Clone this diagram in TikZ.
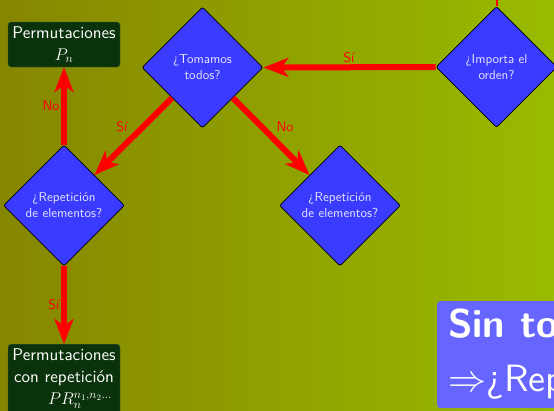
\documentclass[tikz,border=0pt]{standalone}
\usepackage{fix-cm}
\usepackage{fontspec}
\setsansfont{lmsans10-regular.otf}[BoldFont=lmsans10-bold.otf]
\usetikzlibrary{shapes.geometric,arrows.meta}
\definecolor{bgL}{HTML}{868600}
\definecolor{bgR}{HTML}{99BB00}
\definecolor{diaBlue}{HTML}{3B3BFF}
\definecolor{diaText}{HTML}{E4E4FF}
\definecolor{boxGreen}{HTML}{0B330B}
\definecolor{blockBlue}{HTML}{6666FF}
\tikzset{
  dia/.style={diamond, draw=black, line width=0.8pt, fill=diaBlue, text=diaText,
    minimum width=121pt, minimum height=121pt, inner sep=0pt, align=center,
    font=\sffamily\fontsize{13}{16}\selectfont, rounded corners=2pt},
  resbox/.style={rectangle, rounded corners=3pt, fill=boxGreen, draw=boxGreen!80!white,
    line width=0.4pt, text=white, align=center, minimum width=112pt, inner sep=3pt,
    font=\sffamily\fontsize{17}{22}\selectfont},
  arr/.style={red, line width=6pt, -{Stealth[length=25pt,width=19pt,inset=7pt]}},
  lab/.style={red, inner sep=0pt, font=\sffamily\fontsize{14}{16}\selectfont},
  bigtxt/.style={text=white, inner sep=0pt, anchor=base west, font=\sffamily\fontsize{38}{46}\selectfont}
}
\begin{document}
\begin{tikzpicture}[x=1pt,y=-1pt]
\useasboundingbox (0,0) rectangle (554,410);
\clip (0,0) rectangle (554,410);
\shade[left color=bgL,right color=bgR] (0,0) rectangle (554,410);

% diamonds
\node[dia] (tom) at (202.5,67.5) {¿Tomamos\\todos?};
\node[dia] (imp) at (496.5,67) {¿Importa el\\orden?};
\node[dia] (rep1) at (64,205.5) {¿Repetición\\de elementos?};
\node[dia] (rep2) at (340,205.5) {¿Repetición\\de elementos?};

% result boxes
\node[resbox, minimum height=45pt] (pn) at (64,44.5) {Permutaciones\\$P_n$};
\node[resbox, anchor=north, minimum height=75pt, text depth=10pt] (pr) at (64,344)
  {Permutaciones\\con repetición\\\hspace*{32pt}$PR_n^{n_1,n_2\dots}$};

% block at bottom right
\node[fill=blockBlue, rounded corners=3pt, anchor=north west, minimum width=140pt,
  minimum height=107pt, inner sep=0pt] (blk) at (437,301) {};
\node[bigtxt, font=\sffamily\bfseries\fontsize{40}{46}\selectfont] (sin) at (448,337) {Sin to};
\node[bigtxt] (rep) at (448,391) {$\Rightarrow$¿Rep};

% connectors
\coordinate (topin) at (496.5,-6);
\draw[red, line width=2pt] (topin) -- (imp.north);
\draw[arr] (imp.west) -- (tom.east);
\draw[arr] (tom.south west) -- (rep1.north east);
\draw[arr] (tom.south east) -- (rep2.north west);
\draw[arr] (rep1.north) -- (pn.south);
\draw[arr] (rep1.south) -- (pr.north);

% labels
\node[lab] (l1) at (349,58) {Sí};
\node[lab] (l2) at (122,127) {Sí};
\node[lab] (l3) at (285,127) {No};
\node[lab] (l4) at (51,106) {No};
\node[lab] (l5) at (54,305) {Sí};
\end{tikzpicture}
\end{document}
